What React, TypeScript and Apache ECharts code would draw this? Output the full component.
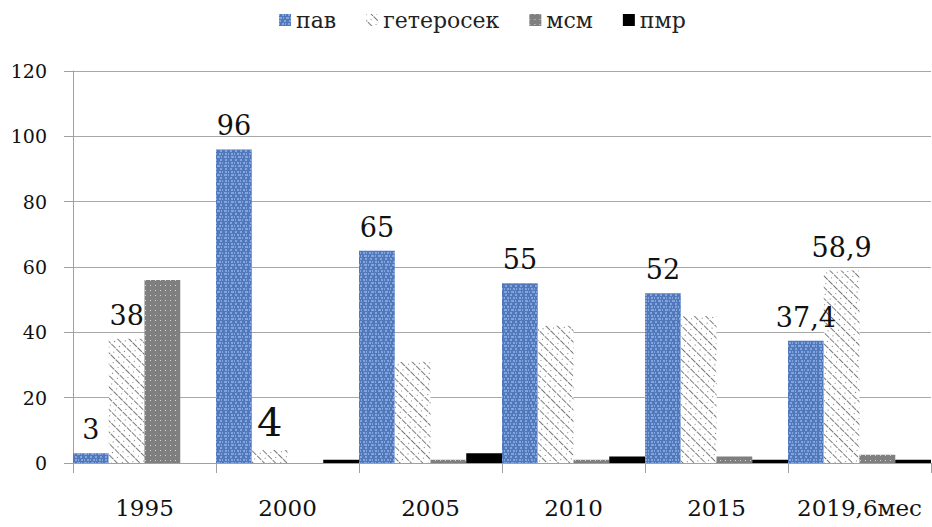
import React, { useEffect, useRef } from "react";
import * as echarts from "echarts";

const categories = ["1995", "2000", "2005", "2010", "2015", "2019,6мес"];
const seriesNames = ["пав", "гетеросек", "мсм", "пмр"];
const pavValues = [3, 96, 65, 55, 52, 37.4];
const heteroValues = [38, 4, 31, 42, 45, 58.9];
const msmValues = [56, 0, 1, 1, 2, 2.5];
const pmrValues = [0, 1, 3, 2, 1, 1];
const pavLabeled = [true, true, true, true, true, true];
const heteroLabeled = [true, true, false, false, false, true];
const yTicks = [0, 20, 40, 60, 80, 100, 120];

const FONT = "DejaVu Serif";

function fmt(v: number) {
  return String(v).replace(".", ",");
}

export default function App() {
  const ref = useRef<HTMLDivElement>(null);
  useEffect(() => {
    document.body.style.margin = "0";
    const chart = echarts.init(ref.current!, undefined, { renderer: "svg" });
    const labelBase = {
      show: true,
      position: "top" as const,
      distance: 10,
      fontFamily: FONT,
      fontSize: 27,
      color: "#111",
      formatter: (p: any) => fmt(p.value),
    };
    const pavData = pavValues.map((v, i) => ({
      value: v,
      label: pavLabeled[i] ? labelBase : { show: false },
    }));
    const heteroData = heteroValues.map((v, i) => ({
      value: v,
      label: heteroLabeled[i]
        ? i === 1
          ? { ...labelBase, fontSize: 40, distance: 8, offset: [0, 0] }
          : labelBase
        : { show: false },
    }));
    chart.setOption({
      animation: false,
      backgroundColor: "#fff",
      legend: {
        top: 4,
        left: 274,
        itemWidth: 12,
        itemHeight: 12,
        itemGap: 30,
        icon: "rect",
        textStyle: { fontFamily: FONT, fontSize: 22, color: "#222" },
        data: seriesNames,
      },
      grid: { left: 73, right: 1, top: 71, bottom: 64, containLabel: false },
      xAxis: {
        type: "category",
        data: categories,
        axisLine: { show: true, lineStyle: { color: "#a0a0a0", width: 1 } },
        axisTick: { show: true, length: 10, lineStyle: { color: "#a0a0a0" } },
        axisLabel: {
          interval: 0,
          fontFamily: FONT,
          fontSize: 23,
          color: "#111",
          margin: 33,
        },
      },
      yAxis: {
        type: "value",
        min: 0,
        max: 120,
        interval: 20,
        axisLine: { show: true, lineStyle: { color: "#a0a0a0" } },
        axisTick: { show: true, length: 9, lineStyle: { color: "#a0a0a0" } },
        splitLine: { lineStyle: { color: "#a8a8a8", width: 1 } },
        axisLabel: {
          fontFamily: FONT,
          fontSize: 19,
          color: "#111",
          margin: 26,
          formatter: (v: number) => (yTicks.includes(v) ? String(v) : ""),
        },
      },
      series: [
        {
          name: seriesNames[0],
          type: "bar",
          barGap: "0%",
          barCategoryGap: "0%",
          data: pavData,
          itemStyle: {
            color: "#5078ba",
            decal: {
              symbol: "rect",
              symbolSize: 1,
              color: "rgba(165,195,245,0.6)",
              dashArrayX: [[2, 3], [1, 2, 2, 1], [3, 1, 1, 2]],
              dashArrayY: [2, 1],
              rotation: 0,
            },
          },
        },
        {
          name: seriesNames[1],
          type: "bar",
          barGap: "0%",
          barCategoryGap: "0%",
          data: heteroData,
          itemStyle: {
            color: "#ffffff",
            decal: {
              symbol: "rect",
              symbolSize: 1,
              color: "#7a7a7a",
              dashArrayX: [[6, 1], [1, 6]],
              dashArrayY: [1, 3],
              rotation: Math.PI / 4,
            },
          },
        },
        {
          name: seriesNames[2],
          type: "bar",
          barGap: "0%",
          barCategoryGap: "0%",
          data: msmValues,
          itemStyle: {
            color: "#7f7f7f",
            decal: {
              symbol: "rect",
              symbolSize: 1,
              color: "#d8d8d8",
              dashArrayX: [1, 4],
              dashArrayY: [1, 4],
              rotation: 0,
            },
          },
        },
        {
          name: seriesNames[3],
          type: "bar",
          barGap: "0%",
          barCategoryGap: "0%",
          data: pmrValues,
          itemStyle: { color: "#000000" },
        },
      ],
    });
    return () => chart.dispose();
  }, []);
  return <div ref={ref} style={{ width: 932, height: 527 }} />;
}
